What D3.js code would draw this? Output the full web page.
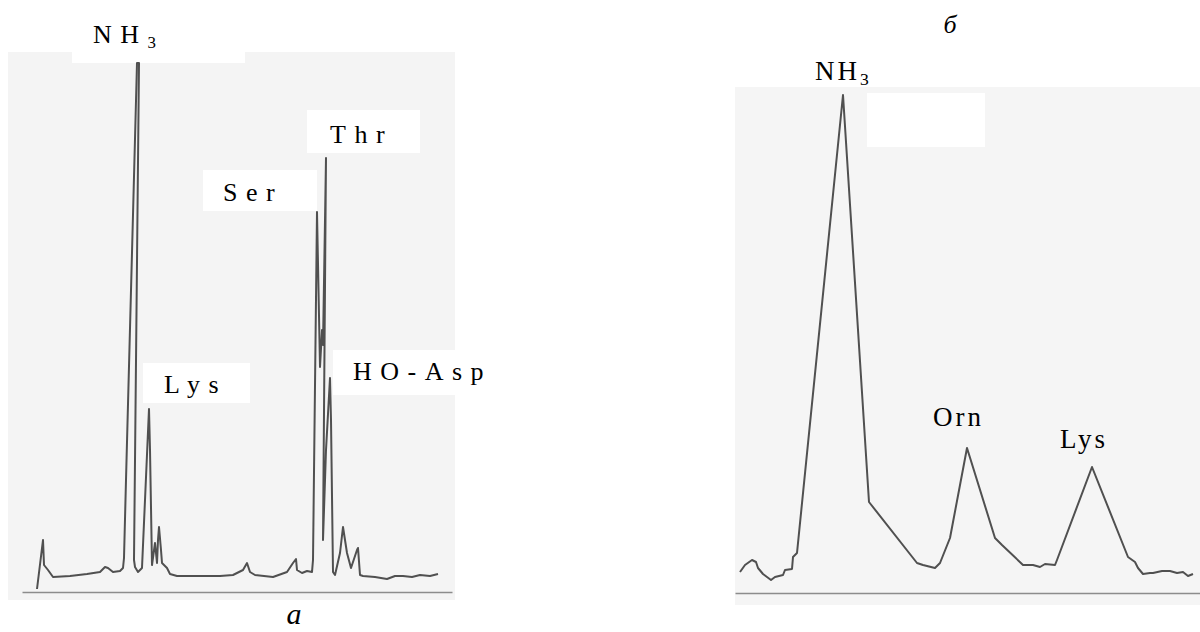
<!DOCTYPE html>
<html><head><meta charset="utf-8">
<script src="https://cdn.jsdelivr.net/npm/d3@7/dist/d3.min.js"></script>
<style>html,body{margin:0;padding:0;background:#fff;}svg{display:block;}</style>
</head><body>
<script>
// ---- Panel a: chromatogram (retention time, detector signal) ----
const aTime = [7.5,10.5,11,13,15.5,24,32.5,39,41.5,43,45.5,49,50.5,51,52,57.5,58.5,56,56.5,58,60,61.5,63.5,64,65,66.5,67.5,68,68.5,69.5,70,71,72.5,74,77.5,99,105.5,110.5,112.5,114,116.5,125.5,132.5,135.5,137,137.5,140,142.5,145,145.5,147.5,149,150,150.5,152,150.5,152,154,154.5,155.5,156.5,159,160.5,162.5,164.5,167.5,168,169,170.5,176.5,182.5,186.5,190.5,195,199,204,208];
const aSignal = [1.5,26,13.5,11,7.5,8,9,10,12.5,12,10,10.5,12,17,56,264.5,264.5,16,12.5,10,12,46,91.5,71,13.5,24.5,14.5,26,32.5,21,14.5,13.5,12,9,8,8,8.5,11,14.5,10,8.5,7.5,10,14.5,16.5,11,9.5,10.5,10,16,190,112.5,131,123.5,217,26,71,107,86,10,8.5,19.5,32.5,19.5,12,21,22,8.5,8,7.5,6.5,8,8,7.5,8.5,8,9];
const aLabelText = ["NH","Ser","Thr","Lys","HO-Asp"];
const aLabelSub = ["3","","","",""];
const aLabelTime = [35.5,100.5,154,71,165.5];
const aLabelSignal = [274.5,195.5,224.5,99.5,106];

// ---- Panel б ----
const bTime = [2.5,5,8.5,10.5,11.5,14,18,20,24,25,28.5,29,31,54,67,91,92.5,94,100,102.5,107.5,116,130,133.5,144,149,152.5,155,160,161,178.5,196.5,200,201.5,204,207.5,209,213.5,217.5,221,224,226.5,229];
const bSignal = [10.5,14,16.5,15.5,12.5,9.5,6.5,8,9,11.5,12,18,20,249,45.5,15,14.5,14,12.5,15,27.5,72.5,27.5,24,14,14,13,14.5,14,16.5,63,18,15.5,12.5,9.5,10,10,11,11,10,10.5,8.5,9.5];
const bLabelText = ["NH","Orn","Lys"];
const bLabelSub = ["3","",""];
const bLabelTime = [40,99,162.5];
const bLabelSignal = [256.5,83.5,72.5];

const panelTitles = ["a","б"];

// ---- layout ----
const W = 1200, H = 632;
const svg = d3.select("body").append("svg").attr("width", W).attr("height", H)
  .style("font-family", "'Liberation Serif','Times New Roman',serif");
svg.append("rect").attr("width", W).attr("height", H).attr("fill", "#fff");

const xA = d3.scaleLinear().domain([0, 215]).range([22, 452]);
const yA = d3.scaleLinear().domain([0, 265]).range([592, 62]);
const xB = d3.scaleLinear().domain([0, 232.5]).range([735, 1200]);
const yB = d3.scaleLinear().domain([0, 249]).range([593, 95]);

// paper backgrounds
svg.append("rect").attr("x", 8).attr("y", 52).attr("width", 447).attr("height", 548).attr("fill", "#f4f4f4");
svg.append("rect").attr("x", 735).attr("y", 87).attr("width", 465).attr("height", 518).attr("fill", "#f5f5f5");

// white label patches (from the scanned figure)
const patchesA = [[72,0,173,63],[203,170,114,41],[307,110,113,43],[143,363,107,40],[333,350,130,45]];
const patchesB = [[867,93,118,54]];
svg.selectAll("rect.patch").data(patchesA.concat(patchesB)).join("rect")
  .attr("class","patch").attr("x", d=>d[0]).attr("y", d=>d[1]).attr("width", d=>d[2]).attr("height", d=>d[3]).attr("fill", "#fff");

// axes (baseline rules)
function drawAxis(x, y) {
  const g = svg.append("g").attr("transform", `translate(0,${y(0)})`)
    .call(d3.axisBottom(x).tickValues([]).tickSizeOuter(0));
  g.select(".domain").attr("stroke", "#8c8c8c").attr("stroke-width", 1.6);
}
drawAxis(xA, yA);
drawAxis(xB, yB);

// traces
function drawTrace(t, s, x, y) {
  const pts = t.map((v, i) => [v, s[i]]);
  const line = d3.line().x(d => x(d[0])).y(d => y(d[1]));
  svg.append("path").datum(pts).attr("d", line)
    .attr("fill", "none").attr("stroke", "#505050").attr("stroke-width", 2)
    .attr("stroke-linejoin", "round");
}
drawTrace(aTime, aSignal, xA, yA);
drawTrace(bTime, bSignal, xB, yB);

// labels
function drawLabels(text, sub, t, s, x, y, size, spacing) {
  text.forEach((txt, i) => {
    const el = svg.append("text").attr("x", x(t[i])).attr("y", y(s[i]))
      .attr("font-size", size).attr("letter-spacing", spacing).attr("fill", "#000");
    el.append("tspan").text(txt);
    if (sub[i]) el.append("tspan").attr("dy", 5).attr("font-size", size * 0.65).text(sub[i]);
  });
}
drawLabels(aLabelText, aLabelSub, aLabelTime, aLabelSignal, xA, yA, 26, 8.5);
drawLabels(bLabelText, bLabelSub, bLabelTime, bLabelSignal, xB, yB, 27, 3);

// panel titles
svg.append("text").attr("x", 294).attr("y", 624).attr("text-anchor", "middle")
  .attr("font-style", "italic").attr("font-size", 30).attr("fill", "#000").text(panelTitles[0]);
svg.append("text").attr("x", 950).attr("y", 33).attr("text-anchor", "middle")
  .attr("font-style", "italic").attr("font-size", 26).attr("fill", "#000").text(panelTitles[1]);
</script>
</body></html>
